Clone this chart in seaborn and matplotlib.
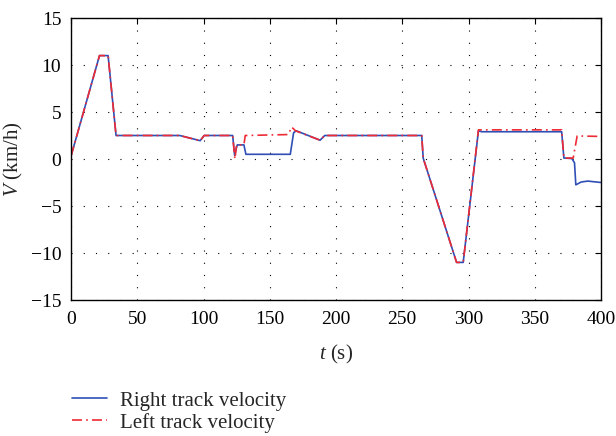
import matplotlib
matplotlib.use("Agg")
import matplotlib.pyplot as plt
import seaborn as sns
import pandas as pd

# ---- data ----
right_t = [0, 21.5, 28, 34, 82, 97.5, 100.5, 122, 123.5, 124.5, 125.5, 130.5, 132,
           165.5, 168, 170, 188, 191.5, 264.7, 265.8, 291, 296, 307.5, 310,
           370.3, 372, 378, 380, 381, 385, 390, 400]
right_v = [0.3, 11, 11, 2.5, 2.5, 1.95, 2.5, 2.5, 0.4, 1.0, 1.5, 1.5, 0.5,
           0.5, 2.8, 3.0, 2.0, 2.5, 2.5, 0.1, -11, -11, 3.0, 2.9,
           2.9, 0.1, 0.05, -0.4, -2.75, -2.45, -2.35, -2.5]

left_t = [0, 21.5, 28, 34, 82, 97.5, 100.5, 122, 123.7, 125, 130.5, 131.5,
          164, 166.5, 169.5, 188, 191.5, 264.7, 265.8, 291, 296, 307.5, 310,
          370.3, 372, 379, 382, 400]
left_v = [0.3, 11, 11, 2.5, 2.5, 1.95, 2.5, 2.5, 0.0, 1.5, 1.5, 2.5,
          2.6, 3.4, 3.0, 2.0, 2.5, 2.5, 0.1, -11, -11, 3.1, 3.1,
          3.1, 0.1, 0.1, 2.45, 2.4]

x_ticks = [0, 50, 100, 150, 200, 250, 300, 350, 400]
y_ticks = [-15, -10, -5, 0, 5, 10, 15]
y_tick_labels = ["\u221215", "\u221210", "\u22125", "0", "5", "10", "15"]

right_df = pd.DataFrame({"t": right_t, "V": right_v})
left_df = pd.DataFrame({"t": left_t, "V": left_v})

sns.set_theme(style="white")
plt.rcParams["font.family"] = ["Liberation Serif", "DejaVu Serif"]
plt.rcParams["mathtext.fontset"] = "custom"
plt.rcParams["mathtext.it"] = "Liberation Serif:italic"
plt.rcParams["mathtext.rm"] = "Liberation Serif"

fig = plt.figure(figsize=(6.16, 4.36), dpi=100)
ax = fig.add_axes([71 / 616, 1 - 300 / 436, 530 / 616, 282 / 436])

blue = "#2f4fb5"
red = "#ee2a35"
sns.lineplot(data=right_df, x="t", y="V", ax=ax, color=blue, lw=1.2,
             estimator=None, sort=False, label="Right track velocity")
sns.lineplot(data=left_df, x="t", y="V", ax=ax, color=red, lw=1.2,
             estimator=None, sort=False, label="Left track velocity")
ax.lines[1].set_dashes((6, 2.5, 1, 2.5))

ax.set_xlim(0, 400)
ax.set_ylim(-15, 15)
ax.set_xticks(x_ticks)
ax.set_yticks(y_ticks)
ax.set_yticklabels(y_tick_labels)
ax.grid(True, color="black", linestyle=(0, (1, 10)), linewidth=0.8)
for s in ax.spines.values():
    s.set_color("black")
    s.set_linewidth(1.0)
ax.tick_params(direction="in", length=4, width=0.8, top=True, right=True,
               labelsize=14, colors="black")
ax.tick_params(axis="x", pad=8)
ax.tick_params(axis="y", pad=7)
ax.set_xlabel("$t$ (s)", fontsize=15, labelpad=11)
ax.set_ylabel("$V$ (km/h)", fontsize=15)
ax.yaxis.set_label_coords((25 - 71) / 530, 0.5)

handles, labels = ax.get_legend_handles_labels()
ax.get_legend().remove()
fig.legend(handles, labels, loc="upper left", bbox_to_anchor=(72 / 616, 1 - 391 / 436),
           frameon=False, fontsize=15, handlelength=1.7, handletextpad=0.6,
           borderpad=0, borderaxespad=0, labelspacing=0.1)

fig.savefig("out.png", dpi=100)
